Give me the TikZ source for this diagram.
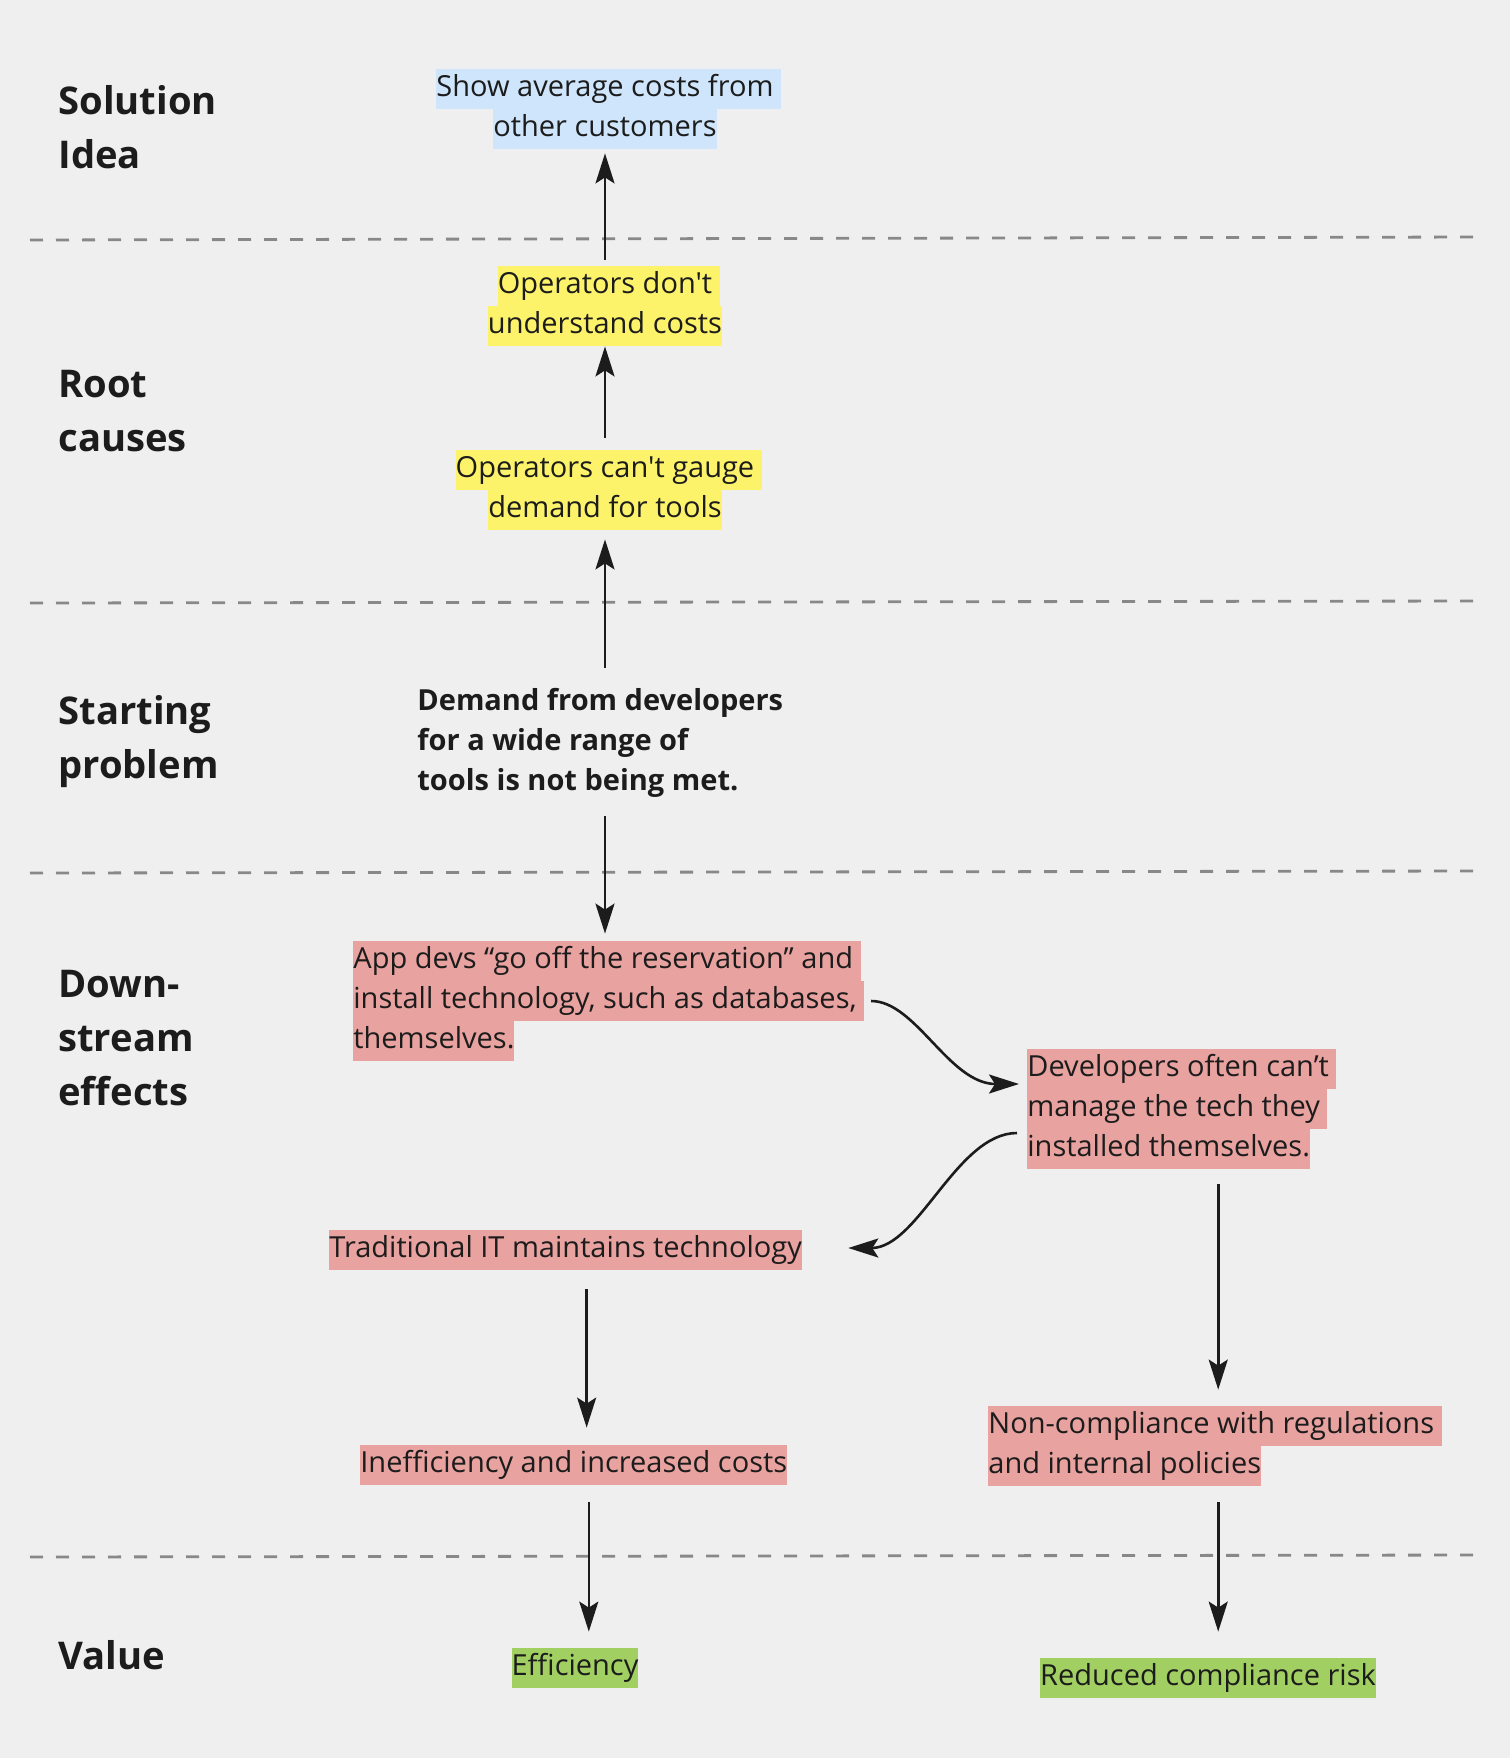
\documentclass[tikz,border=0pt]{standalone}
\usepackage{xcolor}
\usepackage{fontspec}
\newfontfamily\osans{Open Sans}
\usepackage{tikz}
\usetikzlibrary{arrows.meta,calc}

\definecolor{bgcol}{HTML}{EFEFEF}
\definecolor{ideablue}{HTML}{CFE5FB}
\definecolor{causeyellow}{HTML}{FDF36B}
\definecolor{effectpink}{HTML}{E8A29F}
\definecolor{valuegreen}{HTML}{A1CF62}
\definecolor{inkcol}{HTML}{1C1C1C}
\definecolor{rulecol}{HTML}{888888}

\setlength{\fboxsep}{0pt}
% highlighted line, and a wrapped one (keeps its trailing space)
\newcommand{\hl}[2]{\colorbox{#1}{\rule[-6.4pt]{0pt}{20pt}#2}}
\newcommand{\hlw}[2]{\hl{#1}{#2}\rlap{\hl{#1}{\ }}}
\newcommand{\bareline}[1]{\rule[-6.4pt]{0pt}{20pt}#1}
\newcommand{\lanestrut}{\rule[-6.5pt]{0pt}{27pt}}

\tikzset{
    lane/.style={
        font=\osans\bfseries\fontsize{19.1}{27}\selectfont,
        align=left,
        anchor=west,
        inner sep=0pt,
        text=inkcol
    },
    note/.style={
        font=\osans\fontsize{14.5}{20}\selectfont,
        inner sep=0pt,
        text=inkcol
    },
    flow/.style={draw=inkcol, line width=1.3pt, -{Stealth[length=15pt,width=9.5pt,inset=3pt]}},
    divider/.style={draw=rulecol, line width=1.4pt, dash pattern=on 6.5pt off 6.5pt}
}

\begin{document}
\begin{tikzpicture}[x=0.5pt, y=-0.5pt]
    \path[use as bounding box, fill=bgcol] (0,0) rectangle (1510,1758);

    % lanes
    \node (hsol) [lane] at (58,127) {\lanestrut Solution\\\lanestrut Idea};
    \node (hroot) [lane] at (58,410) {\lanestrut Root\\\lanestrut causes};
    \node (hstart) [lane] at (58,737) {\lanestrut Starting\\\lanestrut problem};
    \node (hdown) [lane] at (58,1037) {\lanestrut Down-\\\lanestrut stream\\\lanestrut effects};
    \node (hvalue) [lane] at (58,1655) {\lanestrut Value};

    \draw [divider] (30,240) -- (1480,237);
    \draw [divider] (30,603) -- (1480,601);
    \draw [divider] (30,873) -- (1480,871);
    \draw [divider] (30,1557) -- (1480,1555);

    \node (sol) [note, align=center] at (605,109) {\hlw{ideablue}{Show average costs from}\\\hl{ideablue}{other customers}};
    \node (opcost) [note, align=center] at (605,306) {\hlw{causeyellow}{Operators don't}\\\hl{causeyellow}{understand costs}};
    \node (opdemand) [note, align=center] at (605,490) {\hlw{causeyellow}{Operators can't gauge}\\\hl{causeyellow}{demand for tools}};
    \node (demand) [note, align=left, anchor=west, font=\osans\bfseries\fontsize{14.5}{20}\selectfont] at (417,743) {\bareline{Demand from developers}\\\bareline{for a wide range of}\\\bareline{tools is not being met.}};
    \node (appdevs) [note, align=left, anchor=west] at (353,1001) {\hlw{effectpink}{App devs “go off the reservation” and}\\\hlw{effectpink}{install technology, such as databases,}\\\hl{effectpink}{themselves.}};
    \node (devmanage) [note, align=left, anchor=west] at (1027,1109) {\hlw{effectpink}{Developers often can’t}\\\hlw{effectpink}{manage the tech they}\\\hl{effectpink}{installed themselves.}};
    \node (tradit) [note, anchor=west] at (329,1250) {\hl{effectpink}{Traditional IT maintains technology}};
    \node (ineff) [note, anchor=west] at (360,1465) {\hl{effectpink}{Inefficiency and increased costs}};
    \node (noncomp) [note, align=left, anchor=west] at (988,1446) {\hlw{effectpink}{Non-compliance with regulations}\\\hl{effectpink}{and internal policies}};
    \node (effic) [note] at (575,1668) {\hl{valuegreen}{Efficiency}};
    \node (reduced) [note] at (1208,1678) {\hl{valuegreen}{Reduced compliance risk}};

    \draw [flow, shorten <=3pt, shorten >=2pt] (opcost.north) -- (opcost.north |- sol.south);
    \draw [flow, shorten <=6pt] (opdemand.north) -- (opdemand.north |- opcost.south);
    \draw [flow, shorten <=7.5pt, shorten >=4.5pt] (opdemand.south |- demand.north) -- (opdemand.south);
    \draw [flow, shorten <=6.5pt, shorten >=3.5pt] (opdemand.south |- demand.south) -- (opdemand.south |- appdevs.north);
    \draw [flow] ([xshift=7pt]appdevs.east) .. controls +(45,0) and +(-70,0) .. ([xshift=-4pt,yshift=12.5pt]devmanage.west);
    \draw [flow] ([xshift=-5pt,yshift=-12pt]devmanage.west) .. controls +(-60,0) and +(70,0) .. ([xshift=23pt,yshift=1pt]tradit.east);
    \draw [flow, shorten <=7.5pt, shorten >=8pt] ($(noncomp.north |- devmanage.south)+(7,0)$) -- ($(noncomp.north)+(7,0)$);
    \draw [flow, shorten <=9.5pt, shorten >=8.5pt] ($(tradit.south)+(21,0)$) -- ($(tradit.south |- ineff.north)+(21,0)$);
    \draw [flow, shorten <=8.5pt, shorten >=8pt] ($(ineff.south)+(15,0)$) -- ($(ineff.south |- effic.north)+(15,0)$);
    \draw [flow, shorten <=8pt, shorten >=13pt] ($(noncomp.south)+(7,0)$) -- ($(noncomp.south |- reduced.north)+(7,0)$);
\end{tikzpicture}
\end{document}
